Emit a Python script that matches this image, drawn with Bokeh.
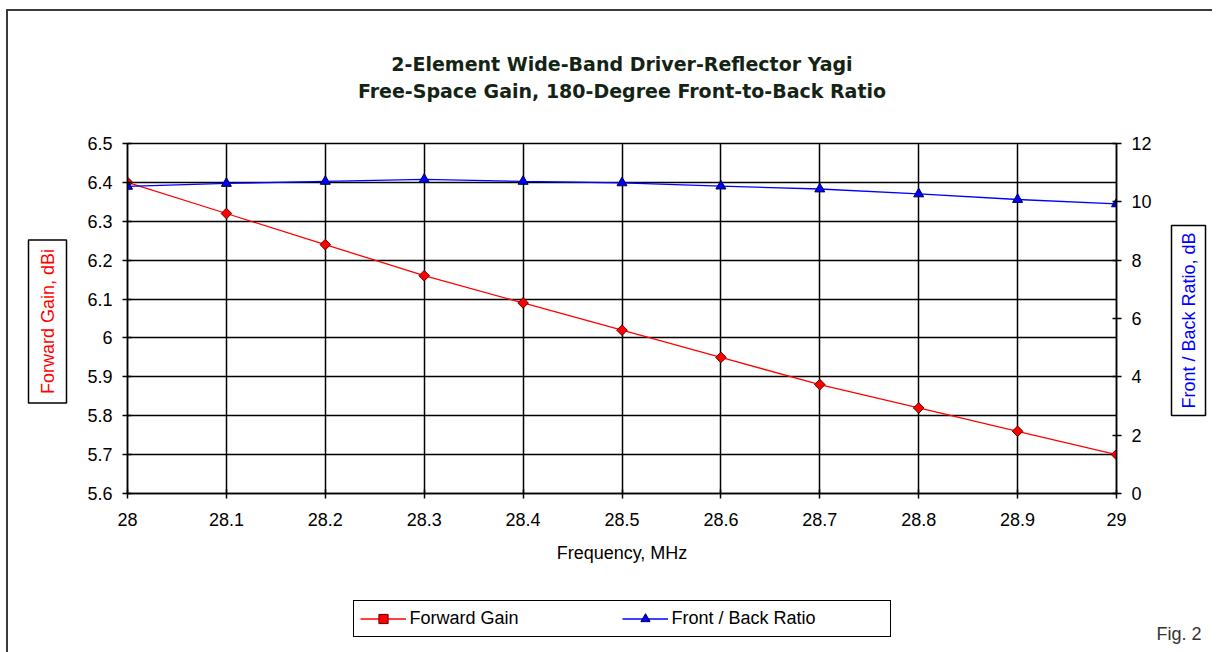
import math
from bokeh.plotting import figure
from bokeh.models import (Range1d, LinearAxis, FixedTicker, CustomJSTickFormatter,
                          Label, Legend, LegendItem)
from bokeh.embed import file_html
from bokeh.resources import INLINE

# ---------------- data ----------------
freq_mhz = [28.0, 28.1, 28.2, 28.3, 28.4, 28.5, 28.6, 28.7, 28.8, 28.9, 29.0]
forward_gain_dbi = [6.40, 6.32, 6.24, 6.16, 6.09, 6.02, 5.95, 5.88, 5.82, 5.76, 5.70]
front_back_db = [10.53, 10.63, 10.70, 10.77, 10.70, 10.65, 10.54, 10.44, 10.27, 10.08, 9.93]

x_ticks = [28.0, 28.1, 28.2, 28.3, 28.4, 28.5, 28.6, 28.7, 28.8, 28.9, 29.0]
gain_ticks = [5.6, 5.7, 5.8, 5.9, 6.0, 6.1, 6.2, 6.3, 6.4, 6.5]
fb_ticks = [0, 2, 4, 6, 8, 10, 12]

title_lines = ["2-Element Wide-Band Driver-Reflector Yagi",
               "Free-Space Gain, 180-Degree Front-to-Back Ratio"]
x_label = "Frequency, MHz"
left_label = "Forward Gain, dBi"
right_label = "Front / Back Ratio, dB"
series_names = ["Forward Gain", "Front / Back Ratio"]
fig_note = "Fig. 2"

# ---------------- figure ----------------
FONT = "Liberation Sans"
W, H = 1212, 636
FL, FR, FT, FB = 127, 1116, 143, 493  # frame edges (px)
p = figure(width=W, height=H, frame_width=FR - FL, frame_height=FB - FT,
           output_backend="svg", toolbar_location=None, title=None,
           x_range=Range1d(28.0, 29.0), y_range=Range1d(5.6, 6.5),
           min_border_left=FL, min_border_right=W - FR,
           min_border_top=FT, min_border_bottom=H - FB)
p.styles = {"background": ("linear-gradient(#3a3a3a,#3a3a3a) 6px 9px / 2px 100% no-repeat, "
                           "linear-gradient(#3a3a3a,#3a3a3a) 6px 9px / 100% 2px no-repeat, #ffffff")}
p.background_fill_color = "white"
p.border_fill_alpha = 0.0
p.outline_line_color = "black"
p.outline_line_width = 1.5

p.extra_y_ranges = {"fb": Range1d(0, 12)}

fmt = "return String(Math.round(tick*10)/10);"
p.xaxis.ticker = FixedTicker(ticks=x_ticks)
p.yaxis.ticker = FixedTicker(ticks=gain_ticks)
p.xaxis.formatter = CustomJSTickFormatter(code=fmt)
p.yaxis.formatter = CustomJSTickFormatter(code=fmt)

ax2 = LinearAxis(y_range_name="fb", ticker=FixedTicker(ticks=fb_ticks),
                 formatter=CustomJSTickFormatter(code=fmt))
p.add_layout(ax2, "right")

for ax in [p.xaxis[0], p.yaxis[0], ax2]:
    ax.axis_line_color = "black"
    ax.axis_line_width = 1.5
    ax.major_tick_line_color = "black"
    ax.major_tick_line_width = 1.5
    ax.major_tick_in = 4
    ax.major_tick_out = 5
    ax.minor_tick_line_color = None
    ax.major_label_text_font = FONT
    ax.major_label_text_font_size = "18px"
    ax.major_label_text_color = "black"
p.xaxis.major_label_standoff = 14
p.yaxis.major_label_standoff = 10
ax2.major_label_standoff = 10

p.xaxis.axis_label = x_label
p.xaxis.axis_label_text_font = FONT
p.xaxis.axis_label_text_font_size = "18px"
p.xaxis.axis_label_text_font_style = "normal"
p.xaxis.axis_label_text_color = "black"
p.xaxis.axis_label_standoff = 14

p.xgrid.ticker = FixedTicker(ticks=x_ticks)
p.ygrid.ticker = FixedTicker(ticks=gain_ticks)
for g in [p.xgrid[0], p.ygrid[0]]:
    g.grid_line_color = "black"
    g.grid_line_width = 1.5

# ---------------- series ----------------
r_gain_line = p.line(freq_mhz, forward_gain_dbi, line_color="#ff0000", line_width=1.3)
r_gain_pts = p.scatter(freq_mhz, forward_gain_dbi, marker="square", angle=math.pi / 4,
                       size=7.5, fill_color="#ff0000", line_color="#5a0000", line_width=1)
r_fb_line = p.line(freq_mhz, front_back_db, y_range_name="fb",
                   line_color="#0000ff", line_width=1.3)
r_fb_pts = p.scatter(freq_mhz, front_back_db, y_range_name="fb", marker="triangle",
                     size=10, fill_color="#0000ff", line_color="#00004a", line_width=1)

# ---------------- texts in side panels ----------------
title_lab = Label(x=(FR - FL) / 2, y=FT - 77, x_units="screen", y_units="screen",
                  text="\n".join(title_lines), text_align="center", text_baseline="middle",
                  text_font="DejaVu Sans", text_font_style="bold", text_font_size="19px",
                  text_color="#142414", text_line_height=1.23)
p.add_layout(title_lab, "above")

left_lab = Label(x=1, y=FB - 321, x_units="screen", y_units="screen", text=left_label,
                 text_align="center", text_baseline="middle", angle=math.pi / 2,
                 text_font=FONT, text_font_size="18px", text_color="#ff0000",
                 border_line_color="black", border_line_width=1.5,
                 background_fill_color="white", padding=9)
p.add_layout(left_lab, "left")

# "Fig. 2" is carried by the left panel stack (its y is measured from the frame bottom)
fig_lab = Label(x=1155, y=FB - 633, x_units="screen", y_units="screen", text=fig_note,
                text_align="left", text_baseline="alphabetic",
                text_font=FONT, text_font_size="18px", text_color="#333333")
p.add_layout(fig_lab, "left")

right_lab = Label(x=34, y=FB - 320, x_units="screen", y_units="screen", text=right_label,
                  text_align="center", text_baseline="middle", angle=math.pi / 2,
                  text_font=FONT, text_font_size="18px", text_color="#0000ff",
                  border_line_color="black", border_line_width=1.5,
                  background_fill_color="white", padding=7)
p.add_layout(right_lab, "right")

# ---------------- legend ----------------
legend = Legend(items=[LegendItem(label=series_names[0], renderers=[r_gain_line, r_gain_pts]),
                       LegendItem(label=series_names[1], renderers=[r_fb_line, r_fb_pts])],
                orientation="horizontal", location="top_center", margin=-102,
                padding=6, spacing=0, label_width=212, glyph_width=46, glyph_height=23,
                label_height=23, label_standoff=4,
                border_line_color="black", border_line_width=1.5, border_line_alpha=1.0,
                background_fill_color="white", background_fill_alpha=1.0,
                label_text_font=FONT, label_text_font_size="18px", label_text_color="black")
p.add_layout(legend, "below")

open("out.html", "w").write(file_html(p, INLINE))
